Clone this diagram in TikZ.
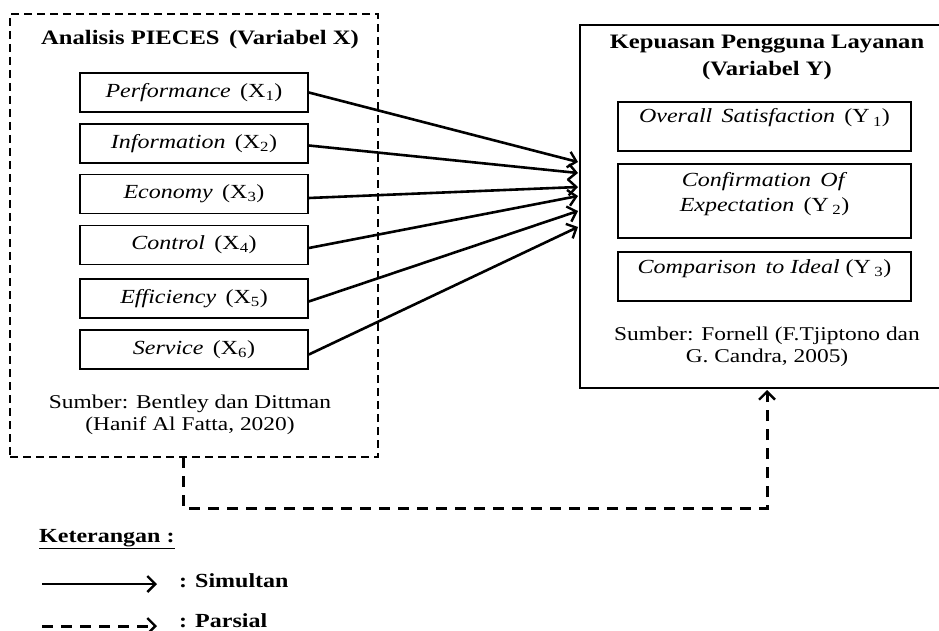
\documentclass[tikz,border=0pt]{standalone}
\usepackage{fontspec}
\setmainfont{Liberation Serif}[FakeStretch=1.2]
\usetikzlibrary{arrows.meta}
\tikzset{
  xbox/.style={draw, line width=1.7pt, minimum width=228pt, minimum height=39pt, inner sep=0pt, font=\fontsize{20}{24}\selectfont},
  ybox/.style={draw, line width=1.7pt, minimum width=293pt, inner sep=0pt},
  ytext/.style={font=\fontsize{20}{25}\selectfont, align=center, inner sep=0pt},
  srcfont/.style={font=\fontsize{19.5}{22}\selectfont, align=center, inner sep=0pt},
  titlefont/.style={font=\bfseries\fontsize{20.5}{27}\selectfont, align=center, inner sep=0pt},
  legfont/.style={font=\bfseries\fontsize{20}{24}\selectfont, anchor=west, inner sep=0pt},
  simarrow/.style={line width=2.6pt, -{Straight Barb[length=8pt,width=16pt,line width=2.4pt]}},
  pararrow/.style={line width=3pt, dash pattern=on 11pt off 8pt, -{Straight Barb[length=8pt,width=16pt,line width=2.4pt]}}
}
\begin{document}
\begin{tikzpicture}[x=1pt,y=-1pt]
\useasboundingbox (0,0) rectangle (939,631);
% left dashed box
\node[draw, line width=1.6pt, dash pattern=on 8pt off 5pt, minimum width=368pt, minimum height=443pt, inner sep=0pt] (lbox) at (194,235.5) {};
% right box
\node[draw, line width=1.7pt, minimum width=380pt, minimum height=363pt, inner sep=0pt] (rbox) at (770,206.5) {};

\node[titlefont] (ltitle) at (200,40) {Analisis PIECES \,(Variabel X)};
\node[titlefont] (rtitle) at (767,57) {Kepuasan Pengguna Layanan\\(Variabel Y)};

\node[xbox] (x1) at (194,92.5) {\textit{Performance} \,(X\textsubscript{1})};
\node[xbox] (x2) at (194,143.5) {\textit{Information} \,(X\textsubscript{2})};
\node[xbox] (x3) at (194,194) {\textit{Economy} \,(X\textsubscript{3})};
\node[xbox] (x4) at (194,245) {\textit{Control} \,(X\textsubscript{4})};
\node[xbox] (x5) at (194,298.5) {\textit{Efficiency} \,(X\textsubscript{5})};
\node[xbox] (x6) at (194,349.5) {\textit{Service} \,(X\textsubscript{6})};

\node[ybox, minimum height=49pt] (y1) at (764.5,126.5) {};
\node[ybox, minimum height=74pt] (y2) at (764.5,201) {};
\node[ybox, minimum height=49pt] (y3) at (764.5,276.5) {};
\node[ytext] (y1t) at (764.5,118) {\textit{Overall \,Satisfaction} \,(Y\,\textsubscript{1})};
\node[ytext] (y2t) at (764.5,194) {\textit{Confirmation \,Of}\\\textit{Expectation} \,(Y\,\textsubscript{2})};
\node[ytext] (y3t) at (764.5,269) {\textit{Comparison \,to Ideal} (Y\,\textsubscript{3})};

\node[srcfont] (lsrc) at (190,415) {Sumber: Bentley dan Dittman\\(Hanif Al Fatta, 2020)};
\node[srcfont] (rsrc) at (767,347) {Sumber: Fornell (F.Tjiptono dan\\G. Candra, 2005)};

\coordinate (t1) at (578,162);
\coordinate (t2) at (578,173);
\coordinate (t3) at (578,187);
\coordinate (t4) at (578,196);
\coordinate (t5) at (578,211);
\coordinate (t6) at (578,227);
\draw[simarrow] (x1.east) -- (t1);
\draw[simarrow] ([yshift=-2pt]x2.east) -- (t2);
\draw[simarrow] ([yshift=-4pt]x3.east) -- (t3);
\draw[simarrow] ([yshift=-3pt]x4.east) -- (t4);
\draw[simarrow] ([yshift=-3pt]x5.east) -- (t5);
\draw[simarrow] ([yshift=-5pt]x6.east) -- (t6);

\coordinate (c1) at (183,457);
\coordinate (c2) at (767,390);
\draw[pararrow] (c1) -- (183,508) -- (767,508) -- (c2);

% legend
\node[legfont] (ket) at (39,539) {\underline{Keterangan :}};
\coordinate (s1) at (42,584);
\coordinate (s2) at (157,584);
\draw[simarrow] (s1) -- (s2);
\node[legfont] (sim) at (179,581) {: Simultan};
\coordinate (p1) at (42,626);
\coordinate (p2) at (157,626);
\draw[pararrow] (p1) -- (p2);
\node[legfont] (par) at (179,621) {: Parsial};
\end{tikzpicture}
\end{document}
